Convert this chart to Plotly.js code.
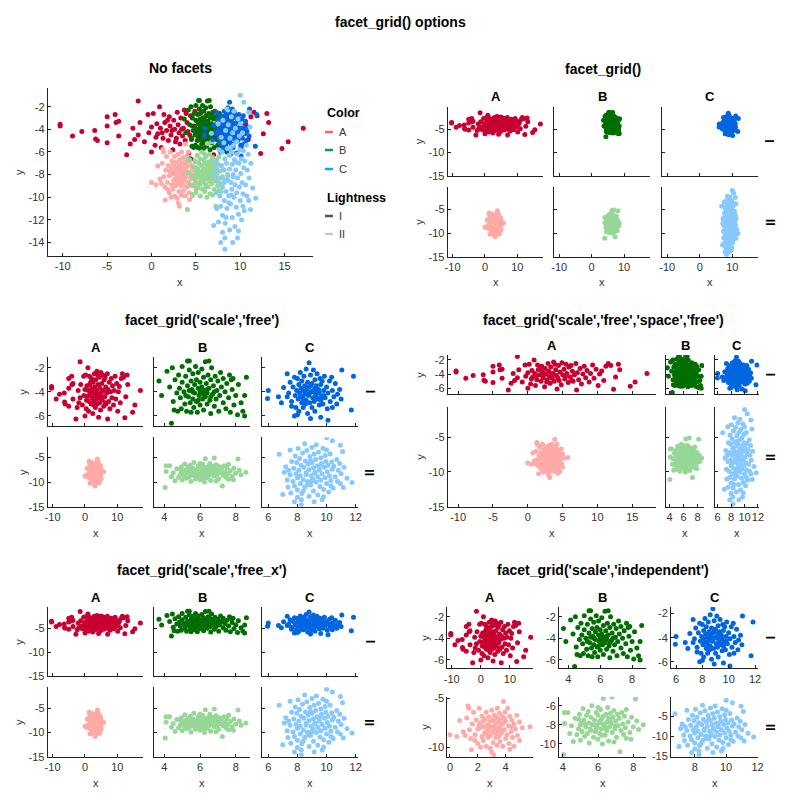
<!DOCTYPE html>
<html><head><meta charset="utf-8">
<script src="https://cdn.plot.ly/plotly-3.0.1.min.js"></script>
<style>html,body{margin:0;padding:0;background:#fff}#chart{width:800px;height:800px}</style>
</head><body><div id="chart"></div>
<script>
// ---------------- DATA ----------------
const colorNames = ['A','B','C'];
const lightnessNames = ['I','II'];

const A_I = [[-10.3,-3.55],[-10.3,-3.7],[-8.9,-4.6],[-7.85,-4.2],[-6.4,-4.1],[-6.3,-4.85],[-6.1,-5.0],[-5.0,-2.9],[-5.0,-3.7],[-5.0,-5.2],[-4.1,-2.7],[-4.0,-3.4],[-3.7,-3.3],[-3.7,-4.6],[-2.8,-6.25],[-2.4,-5.3],[-2.1,-3.9],[-1.9,-4.9],[-1.5,-1.5],[-1.5,-4.5],[-1.3,-3.4],[-0.8,-5.1],[-0.4,-2.7],[-0.3,-4.3],[0,-3.8],[0,-6.0],[0.2,-2.6],[0.4,-5.4],[0.6,-3.5],[0.7,-4.4],[0.9,-2.0],[1.0,-3.9],[1.1,-5.6],[1.3,-4.8],[1.4,-2.7],[1.5,-3.4],[1.7,-4.1],[1.9,-5.0],[2.0,-2.9],[2.1,-3.7],[2.2,-4.5],[2.4,-5.8],[2.5,-3.2],[2.6,-4.0],[2.8,-4.8],[2.9,-2.5],[3.0,-3.6],[3.1,-4.3],[3.2,-5.3],[3.3,-3.0],[3.5,-4.6],[3.6,-3.9],[3.7,-2.3],[3.8,-5.0],[4.0,-3.4],[4.1,-4.2],[4.2,-6.1],[4.4,-2.8],[4.5,-4.9],[4.6,-3.7],[4.8,-5.5],[4.9,-2.4],[5.0,-4.1],[5.2,-3.3],[5.3,-4.7],[5.5,-2.6],[5.6,-3.9],[5.8,-5.2],[5.9,-3.0],[6.1,-4.4],[6.2,-2.8],[6.4,-3.6],[6.5,-5.0],[6.7,-4.1],[6.9,-2.5],[7.0,-6.25],[7.1,-3.8],[7.3,-4.8],[7.5,-3.2],[7.7,-5.4],[7.9,-4.0],[8.1,-2.9],[8.3,-4.5],[8.5,-3.5],[8.8,-5.1],[9.0,-3.9],[9.3,-2.7],[9.5,-4.6],[9.8,-3.3],[10.1,-5.6],[10.3,-4.0],[10.6,-3.55],[10.9,-4.9],[11.2,-2.9],[11.55,-2.5],[11.9,-2.8],[12.3,-6.15],[12.6,-4.4],[13.0,-2.6],[13.2,-3.4],[14.7,-5.7],[15.4,-5.1],[17.1,-3.9],[2.3,-4.1],[3.4,-4.0],[1.2,-4.3],[4.3,-4.5],[5.4,-4.4],[2.7,-5.1],[0.5,-4.7],[3.9,-2.6],[6.3,-4.9],[1.8,-3.2]];
const A_II = [[0.0,-8.7],[0.5,-8.9],[0.95,-8.4],[0.7,-7.25],[1.3,-5.75],[1.35,-6.0],[1.55,-10.25],[1.2,-7.0],[1.4,-8.2],[1.5,-9.1],[1.6,-7.6],[1.7,-6.4],[1.8,-8.7],[1.9,-7.2],[2.0,-9.6],[2.1,-6.0],[2.15,-8.0],[2.2,-7.5],[2.3,-8.9],[2.3,-6.8],[2.4,-9.3],[2.45,-7.9],[2.5,-7.1],[2.5,-8.5],[2.6,-6.4],[2.6,-9.9],[2.7,-7.7],[2.7,-8.3],[2.75,-9.0],[2.8,-6.9],[2.85,-7.4],[2.9,-8.8],[2.9,-10.1],[3.0,-7.9],[3.0,-6.2],[3.05,-8.4],[3.1,-9.5],[3.1,-7.2],[3.15,-10.8],[3.2,-8.1],[3.2,-6.7],[3.25,-7.6],[3.3,-9.0],[3.3,-8.6],[3.35,-7.0],[3.4,-9.8],[3.4,-6.0],[3.45,-8.3],[3.5,-7.4],[3.5,-8.9],[3.55,-6.5],[3.6,-7.9],[3.6,-9.4],[3.65,-7.1],[3.7,-8.5],[3.75,-6.9],[3.8,-9.9],[3.8,-7.6],[3.85,-5.3],[3.9,-8.2],[3.95,-6.4],[4.0,-9.1],[4.0,-7.3],[4.1,-8.7],[4.15,-6.0],[4.2,-7.8],[4.25,-9.6],[4.3,-6.8],[4.4,-8.4],[4.45,-7.2],[4.5,-9.0],[4.6,-7.6],[4.7,-8.1],[4.8,-6.7],[4.85,-8.8],[5.0,-9.3],[5.0,-7.4],[5.2,-8.0],[5.75,-7.9],[2.0,-8.1],[2.4,-7.3],[2.8,-8.0],[3.3,-8.0],[3.6,-8.3],[1.8,-9.3],[2.2,-10.0],[4.3,-10.2],[3.0,-10.5],[4.6,-9.9],[1.1,-8.8],[2.6,-8.6],[3.9,-7.0],[2.1,-7.7],[4.4,-7.9]];
const B_I = [[3.7,-3.1],[3.85,-4.3],[4.15,-2.3],[4.4,-6.6],[4.3,-3.6],[4.45,-2.0],[4.5,-4.8],[4.55,-5.5],[4.6,-3.0],[4.7,-4.1],[4.75,-5.6],[4.8,-2.6],[4.85,-3.7],[4.9,-4.5],[4.95,-5.4],[5.0,-1.9],[5.0,-3.2],[5.1,-4.0],[5.15,-5.0],[5.2,-2.7],[5.25,-5.6],[5.3,-1.45],[5.3,-3.5],[5.35,-4.4],[5.4,-2.2],[5.4,-1.45],[5.45,-4.9],[5.5,-3.1],[5.5,-5.7],[5.55,-3.8],[5.6,-4.6],[5.6,-2.5],[5.65,-5.3],[5.7,-3.4],[5.7,-4.1],[5.75,-1.9],[5.8,-4.8],[5.8,-3.0],[5.85,-5.7],[5.9,-3.7],[5.9,-2.4],[5.95,-4.3],[6.0,-3.2],[6.0,-5.1],[6.05,-4.0],[6.1,-2.1],[6.1,-3.6],[6.15,-4.6],[6.2,-2.8],[6.2,-5.5],[6.25,-3.9],[6.3,-4.4],[6.3,-1.5],[6.35,-3.3],[6.4,-5.0],[6.4,-4.1],[6.45,-2.6],[6.5,-1.45],[6.5,-3.7],[6.55,-4.7],[6.6,-3.0],[6.6,-5.8],[6.65,-2.0],[6.7,-4.2],[6.75,-3.5],[6.8,-5.2],[6.85,-2.7],[6.9,-4.6],[6.95,-3.9],[7.0,-3.1],[7.05,-5.6],[7.1,-4.3],[7.15,-2.4],[7.2,-3.6],[7.3,-4.9],[7.3,-2.9],[7.4,-4.0],[7.45,-5.4],[7.5,-3.3],[7.6,-4.5],[7.65,-2.6],[7.7,-5.7],[7.75,-3.0],[7.8,-3.8],[7.85,-2.9],[7.9,-5.1],[8.0,-4.3],[8.1,-5.9],[8.15,-3.4],[8.3,-4.9],[8.4,-5.6],[8.5,-4.3],[8.5,-6.0],[8.6,-2.8],[6.0,-4.0],[5.6,-4.0],[6.4,-3.8],[5.2,-4.3],[6.8,-4.0],[5.9,-4.7],[6.2,-4.2],[5.4,-3.9],[6.6,-4.4]];
const B_II = [[4.05,-11.1],[4.1,-6.7],[4.3,-6.7],[4.1,-7.85],[4.4,-8.9],[4.6,-9.75],[4.5,-8.1],[4.7,-7.3],[4.8,-9.0],[4.9,-8.4],[4.95,-6.9],[5.0,-9.6],[5.05,-7.8],[5.1,-8.7],[5.15,-6.3],[5.2,-7.5],[5.25,-9.2],[5.3,-8.2],[5.35,-7.0],[5.4,-8.9],[5.45,-6.6],[5.5,-7.8],[5.5,-9.9],[5.55,-8.4],[5.6,-7.2],[5.65,-6.0],[5.7,-8.0],[5.75,-9.3],[5.8,-7.5],[5.85,-8.7],[5.9,-6.7],[5.95,-8.2],[6.0,-7.0],[6.0,-9.5],[6.05,-7.8],[6.1,-8.9],[6.15,-6.4],[6.2,-7.4],[6.2,-8.4],[6.25,-10.0],[6.3,-5.25],[6.3,-7.1],[6.35,-8.0],[6.4,-9.1],[6.45,-6.9],[6.5,-7.7],[6.5,-8.6],[6.55,-6.2],[6.6,-7.3],[6.6,-9.7],[6.65,-8.2],[6.7,-6.8],[6.75,-7.9],[6.8,-5.1],[6.8,-8.8],[6.85,-7.2],[6.9,-6.5],[6.95,-8.4],[7.0,-7.6],[7.05,-9.3],[7.1,-6.9],[7.15,-8.1],[7.2,-7.3],[7.25,-10.8],[7.3,-8.6],[7.35,-6.7],[7.4,-7.9],[7.45,-9.0],[7.5,-7.1],[7.55,-8.3],[7.6,-6.4],[7.7,-7.7],[7.8,-8.8],[7.87,-9.5],[7.9,-7.2],[8.0,-8.2],[8.13,-5.3],[8.2,-7.6],[8.3,-8.5],[8.57,-8.0],[5.8,-8.0],[6.1,-7.6],[6.4,-8.3],[6.7,-7.6],[5.3,-7.9],[7.0,-8.1],[6.2,-9.1],[5.6,-8.6],[4.9,-7.4],[7.6,-9.4],[6.0,-6.2],[6.9,-9.8],[5.0,-8.0],[6.3,-7.9],[5.9,-8.4]];
const C_I = [[6.0,-3.9],[5.95,-4.55],[6.7,-4.4],[7.05,-3.65],[7.3,-2.5],[7.4,-4.1],[7.5,-3.2],[7.6,-4.8],[7.7,-3.6],[7.8,-6.0],[7.8,-2.8],[7.85,-4.3],[7.9,-5.3],[7.95,-3.9],[8.0,-2.9],[8.05,-4.6],[8.1,-3.4],[8.1,-5.6],[8.15,-4.1],[8.2,-2.4],[8.25,-3.7],[8.3,-4.9],[8.3,-3.1],[8.35,-4.4],[8.4,-5.3],[8.4,-3.9],[8.45,-2.7],[8.5,-4.2],[8.5,-3.5],[8.55,-5.0],[8.6,-2.1],[8.6,-4.7],[8.65,-3.8],[8.7,-3.2],[8.7,-5.8],[8.75,-4.3],[8.8,-1.6],[8.8,-3.6],[8.85,-4.9],[8.9,-2.6],[8.9,-6.2],[8.95,-4.0],[9.0,-3.3],[9.0,-5.3],[9.05,-4.5],[9.1,-2.2],[9.1,-3.9],[9.15,-4.8],[9.2,-3.0],[9.2,-5.6],[9.25,-4.2],[9.3,-3.5],[9.35,-2.5],[9.4,-4.6],[9.45,-3.8],[9.5,-5.1],[9.5,-4.1],[9.55,-2.9],[9.6,-6.1],[9.6,-3.4],[9.65,-4.4],[9.7,-3.1],[9.75,-5.0],[9.8,-3.9],[9.85,-2.7],[9.9,-4.5],[10.0,-3.6],[10.05,-5.4],[10.1,-6.35],[10.1,-4.1],[10.2,-3.1],[10.25,-4.8],[10.35,-2.8],[10.4,-3.9],[10.5,-4.4],[10.6,-3.3],[10.7,-5.0],[10.75,-4.2],[10.9,-3.8],[11.05,-2.2],[11.0,-4.6],[11.7,-5.5],[11.85,-2.7],[8.6,-4.0],[9.0,-4.0],[9.4,-4.0],[8.4,-4.6],[9.8,-4.3],[8.9,-3.5],[9.3,-4.4],[7.6,-5.2],[8.0,-5.9],[10.4,-5.3],[7.3,-4.4],[6.9,-4.9],[8.8,-4.2],[9.2,-3.7],[8.2,-4.4],[9.6,-4.7]];
const C_II = [[6.75,-4.35],[7.0,-12.5],[7.5,-3.5],[7.8,-14.0],[8.27,-13.6],[8.27,-14.6],[9.15,-14.0],[9.7,-13.6],[10.0,-1.0],[10.4,-1.6],[10.95,-2.5],[11.1,-3.8],[11.75,-10.1],[10.95,-10.3],[7.2,-6.9],[7.3,-9.6],[7.35,-11.0],[7.4,-7.6],[7.5,-8.5],[7.55,-12.2],[7.6,-5.8],[7.7,-9.9],[7.75,-7.2],[7.8,-10.8],[7.85,-4.7],[7.9,-8.3],[7.95,-6.0],[8.0,-11.6],[8.0,-9.1],[8.05,-3.2],[8.1,-7.6],[8.15,-5.2],[8.2,-10.3],[8.2,-8.7],[8.25,-6.6],[8.3,-12.3],[8.35,-4.1],[8.4,-9.5],[8.45,-7.0],[8.5,-2.2],[8.5,-11.0],[8.55,-5.7],[8.6,-8.1],[8.65,-3.6],[8.7,-9.9],[8.75,-6.3],[8.8,-12.9],[8.8,-7.5],[8.85,-4.8],[8.9,-10.6],[8.95,-8.7],[9.0,-2.9],[9.0,-6.0],[9.05,-9.3],[9.1,-11.8],[9.1,-7.1],[9.15,-4.3],[9.2,-8.2],[9.25,-5.4],[9.3,-10.0],[9.3,-2.4],[9.35,-6.7],[9.4,-12.6],[9.4,-8.9],[9.45,-3.9],[9.5,-7.6],[9.55,-10.9],[9.6,-5.1],[9.6,-9.6],[9.65,-6.2],[9.7,-8.3],[9.75,-3.1],[9.8,-11.5],[9.85,-7.0],[9.9,-4.6],[9.9,-9.1],[9.95,-5.8],[10.0,-10.3],[10.05,-7.9],[10.1,-6.6],[10.15,-12.0],[10.2,-8.7],[10.25,-4.3],[10.3,-9.7],[10.35,-5.9],[10.4,-7.4],[10.45,-11.2],[10.5,-6.8],[10.6,-8.9],[10.7,-5.4],[10.75,-9.9],[10.8,-7.6],[10.9,-6.2],[11.0,-8.3],[11.15,-11.1],[11.2,-7.0],[8.6,-8.5],[9.2,-8.0],[8.9,-5.6],[9.5,-6.9],[8.4,-11.8],[10.0,-3.5],[9.8,-13.0],[8.0,-13.1],[7.1,-8.0],[11.4,-9.2],[9.0,-9.8],[8.7,-10.5],[10.3,-10.8]];

const panelTitles = ['No facets', 'facet_grid()', "facet_grid('scale','free')",
  "facet_grid('scale','free','space','free')", "facet_grid('scale','free_x')", "facet_grid('scale','independent')"];
const mainTitle = 'facet_grid() options';

// tick values
const ticksWideX = [-10,0,10];
const ticksWideX5 = [-10,-5,0,5,10,15];
const ticksBX = [4,6,8];
const ticksCX = [6,8,10,12];
const ticksFullY = [-15,-10,-5];
const ticksRow1Y = [-6,-4,-2];
const ticksNoFacetY = [-14,-12,-10,-8,-6,-4,-2];
const ticksA2X = [0,2,4];
const ticksA2Y = [-10,-5];
const ticksB2Y = [-10,-8,-6];
const ticksC2X = [8,10,12];

// ---------------- STYLE ----------------
const COL = {A_I:'#c80032', A_II:'#ffaaa6', B_I:'#006e00', B_II:'#96d796', C_I:'#0066e0', C_II:'#87c8ff'};
const legendColors = {A:'#ff6262', B:'#00a443', C:'#00aaff', I:'#555555', II:'#c8c8c8'};
const FONT = 'Liberation Sans, Arial, Helvetica, sans-serif';
const W = 800, H = 800;

const groups = {
  A_I:{pts:A_I, color:COL.A_I}, A_II:{pts:A_II, color:COL.A_II},
  B_I:{pts:B_I, color:COL.B_I}, B_II:{pts:B_II, color:COL.B_II},
  C_I:{pts:C_I, color:COL.C_I}, C_II:{pts:C_II, color:COL.C_II}
};

const traces = [];
const layout = {
  width:W, height:H, margin:{l:0,r:0,t:0,b:0}, paper_bgcolor:'#fff',
  showlegend:false, font:{family:FONT}, annotations:[], shapes:[]
};
let nAx = 0;
const axBase = {showline:true, linecolor:'#222', linewidth:1, ticks:'inside', ticklen:3, tickcolor:'#222', tickwidth:1,
  showgrid:false, zeroline:false, fixedrange:true, tickfont:{family:FONT, size:11, color:'#333'}};

function addSub(xpx, ypx, xr, yr, xt, yt, showX, showY, gnames){
  nAx++;
  const id = nAx === 1 ? '' : String(nAx);
  layout['xaxis'+id] = Object.assign({}, axBase, {domain:[xpx[0]/W, xpx[1]/W], range:xr, anchor:'y'+id,
    tickmode:'array', tickvals:xt, ticktext:xt.map(String), showticklabels:showX, tickangle:0, automargin:false});
  layout['yaxis'+id] = Object.assign({}, axBase, {domain:[1-ypx[1]/H, 1-ypx[0]/H], range:yr, anchor:'x'+id,
    tickmode:'array', tickvals:yt, ticktext:yt.map(String), showticklabels:showY, automargin:false});
  gnames.forEach(g => {
    const G = groups[g];
    traces.push({type:'scatter', mode:'markers', x:G.pts.map(p=>p[0]), y:G.pts.map(p=>p[1]),
      xaxis:'x'+id, yaxis:'y'+id, marker:{color:G.color, size:5, line:{width:0}}});
  });
}
function txt(text, x, y, size, bold, opts){
  layout.annotations.push(Object.assign({text: bold ? '<b>'+text+'</b>' : text, x:x/W, y:1-y/H, xref:'paper', yref:'paper',
    showarrow:false, xanchor:'center', yanchor:'middle', font:{family:FONT, size:size, color:bold?'#000':'#333'}}, opts||{}));
}

// main title
txt(mainTitle, 400, 22, 14, true);

// ---------- Panel 1: No facets ----------
addSub([47.7,313],[88,256],[-11.7,18.2],[-15.2,-0.35],ticksWideX5,ticksNoFacetY,true,true,['A_I','A_II','B_I','B_II','C_I','C_II']);
txt(panelTitles[0], 180, 68, 14, true);
txt('x', 180, 282, 11, false);
txt('y', 19, 172, 11, false, {textangle:-90});
// legend
txt('Color', 325, 113, 12.5, true, {xanchor:'left'});
txt('Lightness', 325, 198, 12.5, true, {xanchor:'left'});
const legRows = [['A',132],['B',150],['C',169],['I',216],['II',234]];
legRows.forEach(([n,y]) => {
  txt(n, 337, y, 11, false, {xanchor:'left'});
  layout.shapes.push({type:'line', xref:'paper', yref:'paper', x0:325/W, x1:333/W, y0:1-y/H, y1:1-y/H,
    line:{color:legendColors[n], width:2.5}});
});

// faceted panel builder
const cols3L = [[47.7,143.3],[154.3,250],[262.3,358.3]];
const cols3R = [[447.7,543.3],[554.3,650],[662.3,758.3]];
const gridNames = [['A_I','B_I','C_I'],['A_II','B_II','C_II']];
function headers(cols, yHead, xRowLab, xYLab, yRowLabs, xLabY){
  cols.forEach((c,i) => {
    const cx = (c[0]+c[1])/2;
    txt(colorNames[i], cx, yHead, 13, true);
    txt('x', cx, xLabY, 11, false);
  });
  yRowLabs.forEach((y,j) => {
    txt(lightnessNames[j], xRowLab, y, 13, true, {textangle:90});
    txt('y', xYLab, y, 11, false, {textangle:-90});
  });
}

// ---------- Panel 2: facet_grid() ----------
{
  const rows = [[106.7,176],[186.7,256.7]];
  for (let r=0;r<2;r++) for (let c=0;c<3;c++)
    addSub(cols3R[c], rows[r], [-11.5,18], [-15,-0.2], ticksWideX, ticksFullY, r===1, c===0, [gridNames[r][c]]);
  txt(panelTitles[1], 603, 69, 14, true);
  headers(cols3R, 96, 770, 419, [141.3,221.7], 282);
}
// ---------- Panel 3: scale free ----------
{
  const rows = [[357.3,426],[437.3,506.7]];
  const xr = [[-11.5,18],[3.44,8.8],[5.59,12.18]];
  const xt = [ticksWideX, ticksBX, ticksCX];
  const yr = [[-6.83,-1.14],[-15,-0.9]];
  const yt = [ticksRow1Y, ticksFullY];
  for (let r=0;r<2;r++) for (let c=0;c<3;c++)
    addSub(cols3L[c], rows[r], xr[c], yr[r], xt[c], yt[r], r===1, c===0, [gridNames[r][c]]);
  txt(panelTitles[2], 202, 320, 14, true);
  headers(cols3L, 347, 370, 23, [391.7,472], 533);
}
// ---------- Panel 4: scale free, space free ----------
{
  const cols = [[447.7,656],[666,704],[715,759.3]];
  const rows = [[355,394.3],[406.7,506.7]];
  const xr = [[-11.5,18.4],[3.5,8.9],[5.6,12.2]];
  const xt = [ticksWideX5, ticksBX, ticksCX];
  const yr = [[-6.85,-1.3],[-15,-0.6]];
  const yt = [ticksRow1Y, ticksFullY];
  for (let r=0;r<2;r++) for (let c=0;c<3;c++)
    addSub(cols[c], rows[r], xr[c], yr[r], xt[c], yt[r], r===1, c===0, [gridNames[r][c]]);
  txt(panelTitles[3], 603, 320, 14, true);
  headers(cols, 345, 770, 420, [374.7,456.7], 533);
}
// ---------- Panel 5: free_x ----------
{
  const rows = [[607.3,676],[687.3,756.7]];
  const xr = [[-11.5,18],[3.44,8.8],[5.59,12.18]];
  const xt = [ticksWideX, ticksBX, ticksCX];
  for (let r=0;r<2;r++) for (let c=0;c<3;c++)
    addSub(cols3L[c], rows[r], xr[c], [-15,-0.6], xt[c], ticksFullY, r===1, c===0, [gridNames[r][c]]);
  txt(panelTitles[4], 202, 570, 14, true);
  headers(cols3L, 597, 370, 19, [641.7,722], 783);
}
// ---------- Panel 6: independent ----------
{
  const cols = [[447.3,533.3],[559,646],[671,758.3]];
  const rows = [[607,668.3],[696.7,756.7]];
  const xr = [[[-11.5,18],[3.42,8.87],[5.62,12.25]],[[-0.19,5.99],[3.79,8.72],[6.49,12.05]]];
  const xt = [[ticksWideX,ticksBX,ticksCX],[ticksA2X,ticksBX,ticksC2X]];
  const yr = [[[-6.77,-1.1],[-6.77,-1.1],[-6.55,-1.45]],[[-10.97,-4.8],[-11.33,-5.06],[-15.02,-0.1]]];
  const yt = [[ticksRow1Y,ticksRow1Y,ticksRow1Y],[ticksA2Y,ticksB2Y,ticksFullY]];
  for (let r=0;r<2;r++) for (let c=0;c<3;c++)
    addSub(cols[c], rows[r], xr[r][c], yr[r][c], xt[r][c], yt[r][c], true, true, [gridNames[r][c]]);
  txt(panelTitles[5], 603, 570, 14, true);
  headers(cols, 597, 770, 425, [637.7,726.7], 783);
}

Plotly.newPlot('chart', traces, layout, {staticPlot:true, displayModeBar:false});
</script>
</body></html>
